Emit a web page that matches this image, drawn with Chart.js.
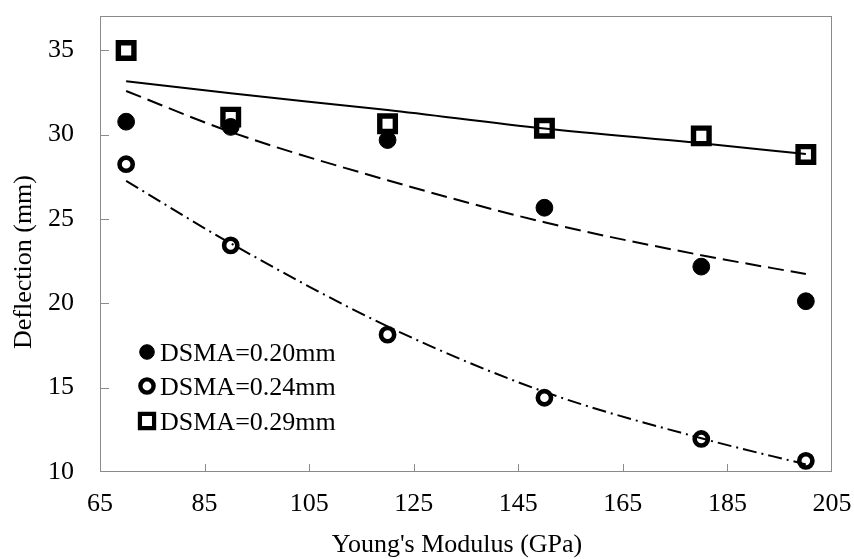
<!DOCTYPE html>
<html>
<head>
<meta charset="utf-8">
<script src="https://cdn.jsdelivr.net/npm/chart.js@4/dist/chart.umd.min.js"></script>
<style>
  html, body { margin: 0; padding: 0; background: #fff; }
  #wrap { width: 854px; height: 559px; }
</style>
</head>
<body>
<div id="wrap"><canvas id="c" width="854" height="559"></canvas></div>
<script>
// Young's modulus (GPa) of each test
const modulus = [70, 90, 120, 150, 180, 200];

// Measured deflection (mm) per wire diameter
const defl020 = [30.76, 30.45, 29.67, 25.66, 22.17, 20.12];
const defl024 = [28.24, 23.43, 18.14, 14.40, 11.96, 10.66];
const defl029 = [34.98, 31.03, 30.64, 30.37, 29.92, 28.82];

// Trend curves through each series
const trend020 = [32.58, 30.15, 27.29, 24.80, 22.85, 21.73];
const trend024 = [27.25, 23.55, 18.63, 14.75, 12.00, 10.45];
const trend029 = [33.16, 32.44, 31.45, 30.35, 29.48, 28.84];

const seriesLabels = ['DSMA=0.20mm', 'DSMA=0.24mm', 'DSMA=0.29mm'];
const xTickValues = [65, 85, 105, 125, 145, 165, 185, 205];
const yTickValues = [10, 15, 20, 25, 30, 35];
const xTitle = "Young's Modulus (GPa)";
const yTitle = 'Deflection (mm)';

const FONT = "'Liberation Serif', 'Times New Roman', serif";
const AXIS_GREY = '#8a8a8a';

const pts = (ys) => modulus.map((x, i) => ({ x: x, y: ys[i] }));

// Plot frame plus short inward tick marks
const framePlugin = {
  id: 'frame',
  beforeDatasetsDraw(chart) {
    const { ctx, chartArea: a, scales } = chart;
    ctx.save();
    ctx.strokeStyle = AXIS_GREY;
    ctx.lineWidth = 1;
    ctx.strokeRect(Math.round(a.left) + 0.5, Math.round(a.top) + 0.5,
                   Math.round(a.right - a.left) - 1, Math.round(a.bottom - a.top) - 1);
    ctx.beginPath();
    scales.x.ticks.forEach(t => {
      const px = Math.round(scales.x.getPixelForValue(t.value)) + 0.5;
      if (px <= a.left + 1 || px >= a.right - 1) return;
      ctx.moveTo(px, a.bottom);
      ctx.lineTo(px, a.bottom - 8);
    });
    scales.y.ticks.forEach(t => {
      const py = Math.round(scales.y.getPixelForValue(t.value)) + 0.5;
      if (py >= a.bottom - 1 || py <= a.top + 1) return;
      ctx.moveTo(a.left, py);
      ctx.lineTo(a.left + 9, py);
    });
    ctx.stroke();
    ctx.restore();
  }
};

// Axis titles
const titlePlugin = {
  id: 'axisTitles',
  afterDraw(chart) {
    const ctx = chart.ctx;
    ctx.save();
    ctx.fillStyle = '#000';
    ctx.font = '26px ' + FONT;
    ctx.textAlign = 'center';
    ctx.textBaseline = 'alphabetic';
    ctx.fillText(xTitle, 457, 552);
    ctx.translate(31, 262);
    ctx.rotate(-Math.PI / 2);
    ctx.fillText(yTitle, 0, 0);
    ctx.restore();
  }
};

// Legend inside the plot, lower left
const legendPlugin = {
  id: 'innerLegend',
  afterDraw(chart) {
    const ctx = chart.ctx;
    const rows = [
      { ds: 0, y: 352, style: 'circle', radius: 7.3, lw: 1, fill: '#000' },
      { ds: 1, y: 386, style: 'circle', radius: 6.6, lw: 4.4, fill: 'rgba(0,0,0,0)' },
      { ds: 2, y: 421, style: 'rect', radius: 10, lw: 4.2, fill: 'rgba(0,0,0,0)' }
    ];
    ctx.save();
    rows.forEach(r => {
      ctx.fillStyle = r.fill;
      ctx.strokeStyle = '#000';
      ctx.lineWidth = r.lw;
      const opts = { pointStyle: r.style, radius: r.radius, rotation: 0, borderWidth: r.lw };
      if (Chart.helpers && Chart.helpers.drawPoint) {
        Chart.helpers.drawPoint(ctx, opts, 147, r.y);
      } else {
        ctx.beginPath();
        if (r.style === 'circle') ctx.arc(147, r.y, r.radius, 0, Math.PI * 2);
        else { const s = r.radius * Math.SQRT1_2; ctx.rect(147 - s, r.y - s, 2 * s, 2 * s); }
        ctx.fill(); ctx.stroke();
      }
      ctx.fillStyle = '#000';
      ctx.font = '26px ' + FONT;
      ctx.textAlign = 'left';
      ctx.textBaseline = 'alphabetic';
      ctx.fillText(chart.data.datasets[r.ds].label, 160, r.y + 8.5);
    });
    ctx.restore();
  }
};

const trendBase = {
  showLine: true,
  pointRadius: 0,
  pointHoverRadius: 0,
  borderColor: '#000',
  borderWidth: 2,
  fill: false,
  cubicInterpolationMode: 'monotone'
};

new Chart(document.getElementById('c'), {
  type: 'scatter',
  data: {
    datasets: [
      {
        label: seriesLabels[0], data: pts(defl020),
        pointStyle: 'circle', pointRadius: 8.4, borderWidth: 1,
        borderColor: '#000', backgroundColor: '#000'
      },
      {
        label: seriesLabels[1], data: pts(defl024),
        pointStyle: 'circle', pointRadius: 6.6, borderWidth: 4.6,
        borderColor: '#000', backgroundColor: 'rgba(0,0,0,0)'
      },
      {
        label: seriesLabels[2], data: pts(defl029),
        pointStyle: 'rect', pointRadius: 11, borderWidth: 5.4,
        borderColor: '#000', backgroundColor: 'rgba(0,0,0,0)'
      },
      Object.assign({ label: 'trend 0.20', data: pts(trend020), borderDash: [16, 7] }, trendBase),
      Object.assign({ label: 'trend 0.24', data: pts(trend024), borderDash: [14, 5, 2, 5] }, trendBase),
      Object.assign({ label: 'trend 0.29', data: pts(trend029), borderDash: [] }, trendBase)
    ]
  },
  options: {
    responsive: false,
    animation: false,
    devicePixelRatio: 1,
    layout: { padding: { top: 7, right: 22, left: 0, bottom: 0 } },
    font: { family: FONT, size: 26 },
    plugins: {
      legend: { display: false },
      tooltip: { enabled: false }
    },
    scales: {
      x: {
        type: 'linear',
        min: 65, max: 205,
        afterBuildTicks: s => { s.ticks = xTickValues.map(v => ({ value: v })); },
        afterFit: s => { s.height = 87; s.paddingLeft = 0; s.paddingRight = 0; },
        grid: { display: false, drawTicks: false },
        border: { display: false },
        ticks: {
          color: '#000', padding: 17, maxRotation: 0, autoSkip: false,
          font: { family: FONT, size: 26 }
        }
      },
      y: {
        type: 'linear',
        min: 10, max: 37,
        afterBuildTicks: s => { s.ticks = yTickValues.map(v => ({ value: v })); },
        afterFit: s => { s.width = 100; s.paddingTop = 0; s.paddingBottom = 0; },
        grid: { display: false, drawTicks: false },
        border: { display: false },
        ticks: {
          color: '#000', padding: 26, autoSkip: false,
          font: { family: FONT, size: 26 }
        }
      }
    }
  },
  plugins: [framePlugin, legendPlugin, titlePlugin]
});
</script>
</body>
</html>
